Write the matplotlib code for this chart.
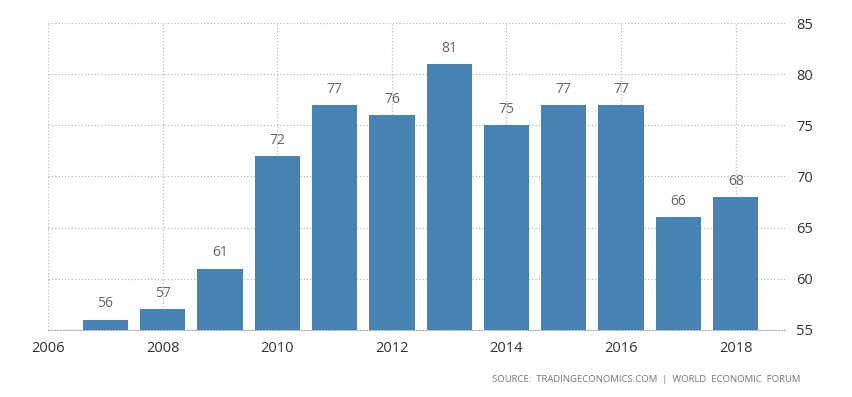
import matplotlib
matplotlib.use('Agg')
import matplotlib.pyplot as plt

# data
years = [2007, 2008, 2009, 2010, 2011, 2012, 2013, 2014, 2015, 2016, 2017, 2018]
values = [56, 57, 61, 72, 77, 76, 81, 75, 77, 77, 66, 68]
x_ticks = [2006, 2008, 2010, 2012, 2014, 2016, 2018]
y_ticks = [55, 60, 65, 70, 75, 80, 85]
source = 'SOURCE:  TRADINGECONOMICS.COM  |  WORLD  ECONOMIC  FORUM'

plt.rcParams['font.family'] = ['Open Sans', 'DejaVu Sans']

fig = plt.figure(figsize=(8.53, 3.97), dpi=100)
ax = fig.add_axes([0.0563, 0.169, 0.864, 0.773])

bar_color = '#4682b4'
ax.bar(years, [v - 55 for v in values], bottom=55, width=0.79, color=bar_color, zorder=3)

for x, v in zip(years, values):
    ax.text(x, v + 0.8, str(v), ha='center', va='bottom', fontsize=10, color='#666666', zorder=4)

ax.set_xlim(2006, 2018.86)
ax.set_ylim(55, 85)
ax.set_xticks(x_ticks)
ax.set_yticks(y_ticks)
ax.yaxis.tick_right()

ax.grid(True, linestyle=':', color='#bbbbbb', linewidth=0.9, zorder=0)
for s in ['top', 'right', 'left']:
    ax.spines[s].set_visible(False)
ax.spines['bottom'].set_linestyle(':')
ax.spines['bottom'].set_color('#aaaaaa')

ax.tick_params(axis='both', length=0, labelsize=10.5, colors='#333333')
ax.tick_params(axis='x', pad=8)
ax.tick_params(axis='y', pad=8)

fig.text(0.938, 0.045, source, ha='right', va='center', fontsize=6.8, color='#777777')

fig.savefig('out.png', dpi=100)
